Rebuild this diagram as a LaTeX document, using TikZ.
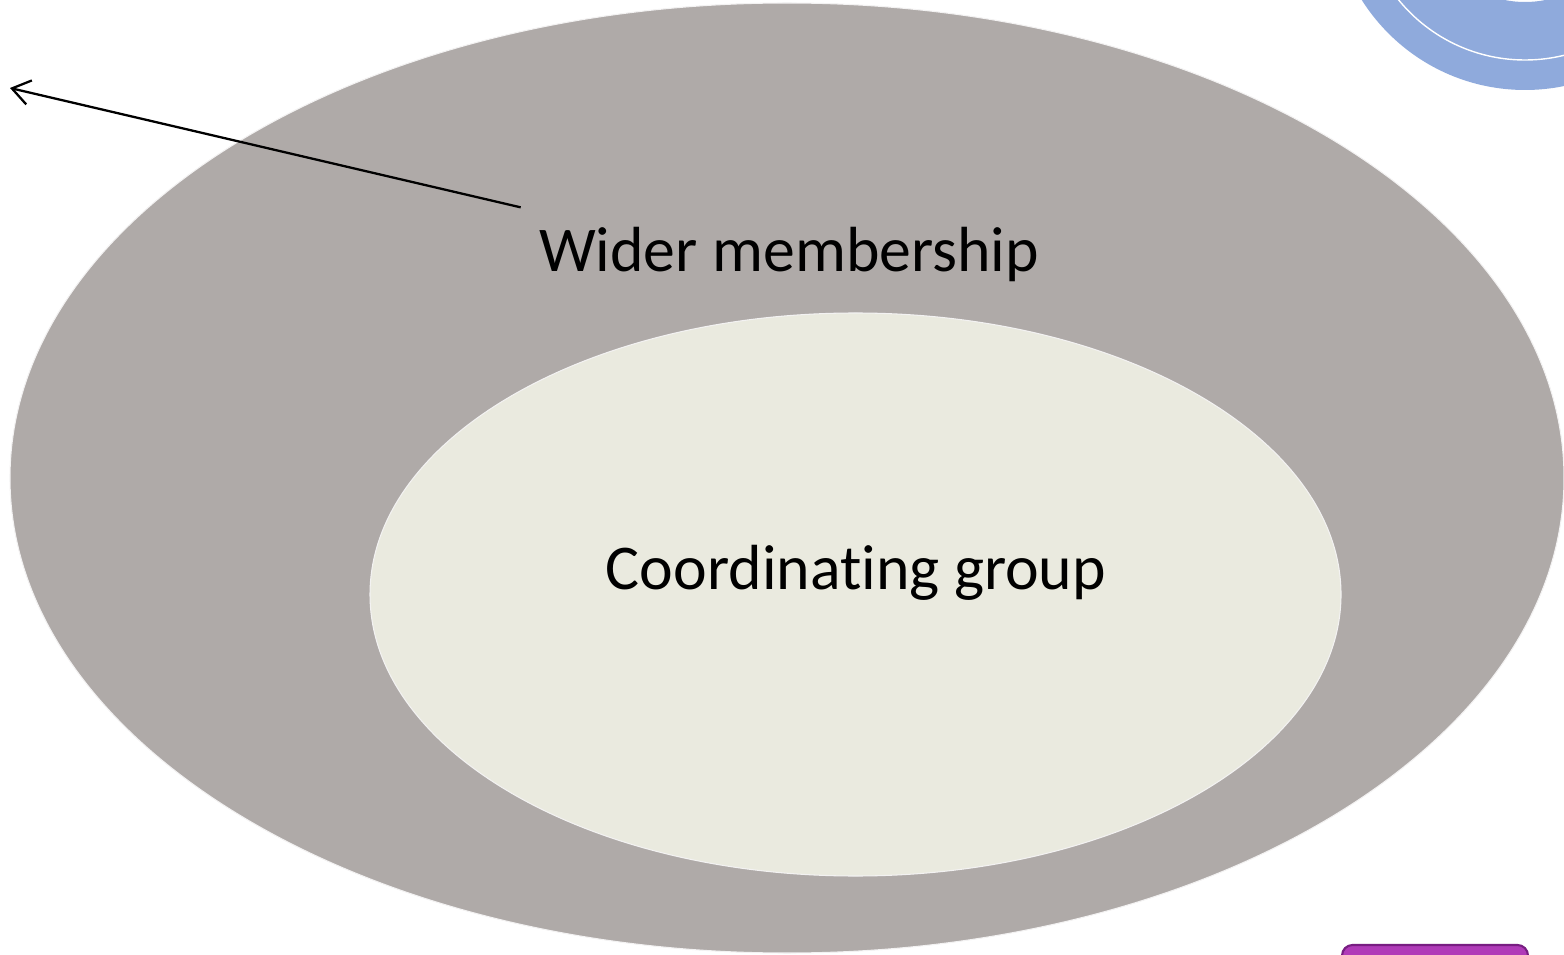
\documentclass[tikz,border=0pt]{standalone}
\usepackage{fontspec}
\setmainfont{Carlito}[Ligatures=NoCommon]
\usepackage{tikz}
\usetikzlibrary{shapes,arrows,arrows.meta}
\usetikzlibrary{positioning}
\usetikzlibrary{calc}
\definecolor{mygrey}{RGB}{175,170,168}
\definecolor{mycream}{RGB}{234,234,223}
\definecolor{myblue}{RGB}{143,170,220}
\definecolor{mypurple}{RGB}{176,58,184}
\definecolor{mydarkpurple}{RGB}{120,30,130}

\begin{document}
\begin{tikzpicture}[x=0.02cm, y=-0.02cm,
mylabel/.style={
  font=\fontsize{36.3}{40}\selectfont,
  inner sep=0pt,
  anchor=base},
myellipse/.style={
  ellipse,
  draw=white!85!mygrey,
  line width=0.6pt,
  inner sep=0pt}
]
\useasboundingbox (0,0) rectangle (1564,955);
\clip (0,0) rectangle (1564,955);
% corner shapes
\fill[myblue, even odd rule] (1525,-103) circle (193) (1525,-103) circle (105);
\draw[white, line width=0.8pt] (1525,-103) circle (163);
\draw[mydarkpurple, fill=mypurple, line width=1.2pt, rounded corners=6pt] (1342,945) rectangle (1528,985);
% groups
\node[myellipse, fill=mygrey, minimum width=1554*0.02cm, minimum height=950*0.02cm] (wider) at (787,478) {};
\node[myellipse, fill=mycream, minimum width=971*0.02cm, minimum height=563*0.02cm] (coord) at (855.5,594.5) {};
\node[mylabel] (widerlabel) at (789,272) {Wider membership};
\node[mylabel] (coordlabel) at (856,589) {Coordinating group};
\coordinate (out) at (10,88);
\draw [-{Straight Barb[length=10pt,width=14pt]}, line width=1.3pt] ($(widerlabel.north west)+(-18,-20)$) -- (out);
\end{tikzpicture}
\end{document}
